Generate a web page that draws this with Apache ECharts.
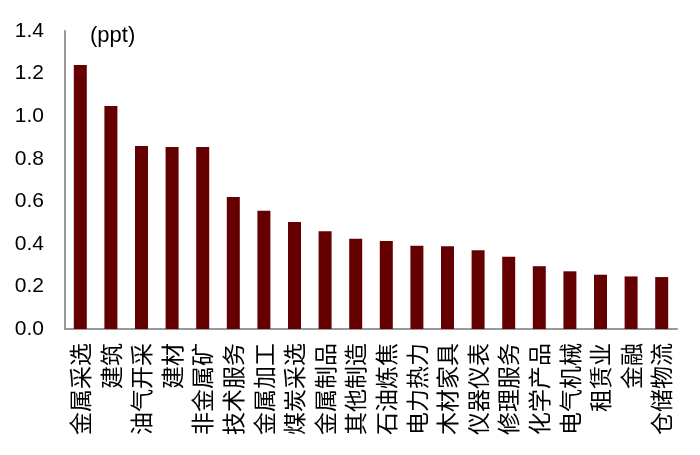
<!DOCTYPE html>
<html>
<head>
<meta charset="utf-8">
<script src="https://cdn.jsdelivr.net/npm/echarts@6/dist/echarts.min.js"></script>
<style>
html,body{margin:0;padding:0;background:#fff;}
#chart{width:700px;height:455px;}
</style>
</head>
<body>
<div id="chart"></div>
<script>
const categories = ['金属采选','建筑','油气开采','建材','非金属矿','技术服务','金属加工','煤炭采选','金属制品','其他制造','石油炼焦','电力热力','木材家具','仪器仪表','修理服务','化学产品','电气机械','租赁业','金融','仓储物流'];
const values = [1.24,1.048,0.86,0.855,0.855,0.62,0.556,0.503,0.459,0.424,0.413,0.391,0.389,0.370,0.339,0.295,0.271,0.255,0.247,0.244];
const yTicks = {min:0, max:1.4, interval:0.2};
const unitLabel = '(ppt)';

const chart = echarts.init(document.getElementById('chart'));
chart.setOption({
  animation:false,
  backgroundColor:'#fff',
  title:{text:unitLabel,left:85,top:20,textStyle:{fontFamily:'Liberation Sans, Arial',fontSize:22,fontWeight:'normal',color:'#000'}},
  grid:{left:65,right:23,top:31,bottom:126,containLabel:false},
  xAxis:{
    type:'category',
    data:categories,
    axisLine:{lineStyle:{color:'#999',width:2}},
    axisTick:{show:false},
    axisLabel:{rotate:90,interval:0,margin:14,fontSize:23,color:'#000',fontFamily:'Noto Sans CJK SC'}
  },
  yAxis:{
    type:'value',
    min:yTicks.min,max:yTicks.max,interval:yTicks.interval,
    axisLine:{show:true,lineStyle:{color:'#999',width:2}},
    axisTick:{show:false},
    splitLine:{show:false},
    axisLabel:{margin:21,fontSize:21,color:'#000',fontFamily:'Liberation Sans, Arial',formatter:v=>v.toFixed(1)}
  },
  series:[{type:'bar',data:values,barWidth:13,itemStyle:{color:'#640000'}}]
});
</script>
</body>
</html>
